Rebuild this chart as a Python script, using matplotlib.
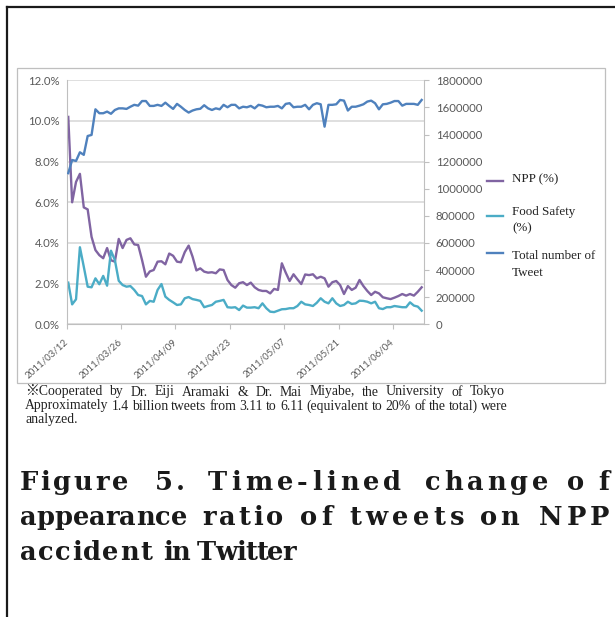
import numpy as np
import matplotlib
matplotlib.use("Agg")
import matplotlib.pyplot as plt
from matplotlib.lines import Line2D
from matplotlib.patches import Rectangle
from matplotlib.font_manager import FontProperties
from matplotlib.textpath import TextToPath
import matplotlib.transforms as mtransforms
import datetime as dt

# ---------------- data ----------------
start_date = dt.date(2011, 3, 12)
npp_pct = [10.2, 6.0, 7.0, 7.4, 5.75, 5.65, 4.3, 3.65, 3.4, 3.25,
           3.75, 3.15, 3.08, 4.2, 3.75, 4.15, 4.23, 3.93, 3.9, 3.16,
           2.34, 2.6, 2.67, 3.08, 3.1, 2.95, 3.48, 3.37, 3.08, 3.05,
           3.55, 3.87, 3.33, 2.65, 2.75, 2.59, 2.54, 2.56, 2.51, 2.70,
           2.67, 2.18, 1.93, 1.80, 2.02, 2.07, 1.93, 2.05, 1.82, 1.69,
           1.64, 1.64, 1.52, 1.74, 1.69, 3.0, 2.54, 2.13, 2.46, 2.21,
           1.98, 2.45, 2.42, 2.46, 2.26, 2.34, 2.26, 1.85, 2.07, 2.13,
           1.93, 1.49, 1.88, 1.69, 1.80, 2.18, 1.88, 1.64, 1.44, 1.60,
           1.52, 1.33, 1.28, 1.24, 1.31, 1.39, 1.49, 1.41, 1.49, 1.41,
           1.60, 1.82]
food_pct = [2.05, 0.98, 1.23, 3.79, 2.83, 1.85, 1.82, 2.26, 1.97, 2.38,
            1.9, 3.62, 3.16, 2.14, 1.93, 1.85, 1.88, 1.69, 1.44, 1.39,
            0.98, 1.15, 1.11, 1.69, 1.98, 1.36, 1.2, 1.08, 0.95, 0.98,
            1.28, 1.34, 1.24, 1.2, 1.15, 0.84, 0.9, 0.95, 1.11, 1.15,
            1.2, 0.84, 0.82, 0.84, 0.7, 0.92, 0.82, 0.82, 0.84, 0.79,
            1.03, 0.79, 0.62, 0.6, 0.67, 0.74, 0.75, 0.79, 0.79, 0.9,
            1.11, 0.98, 0.95, 0.9, 1.06, 1.28, 1.11, 1.03, 1.28, 1.03,
            0.9, 0.95, 1.11, 1.0, 1.03, 1.16, 1.15, 1.11, 1.03, 1.11,
            0.79, 0.75, 0.84, 0.84, 0.9, 0.87, 0.84, 0.84, 1.08, 0.92,
            0.87, 0.67]
total_tweets = [1115000, 1212000, 1205000, 1269000, 1250000, 1389000, 1397000, 1586000, 1557000, 1557000,
                1569000, 1553000, 1581000, 1593000, 1593000, 1589000, 1605000, 1619000, 1613000, 1647000,
                1647000, 1611000, 1611000, 1619000, 1611000, 1635000, 1611000, 1589000, 1626000, 1605000,
                1581000, 1562000, 1577000, 1586000, 1590000, 1616000, 1593000, 1581000, 1593000, 1586000,
                1619000, 1601000, 1619000, 1619000, 1593000, 1605000, 1601000, 1611000, 1593000, 1619000,
                1613000, 1601000, 1605000, 1605000, 1611000, 1593000, 1626000, 1631000, 1601000, 1605000,
                1605000, 1619000, 1586000, 1619000, 1631000, 1623000, 1458000, 1619000, 1619000, 1623000,
                1655000, 1650000, 1577000, 1605000, 1605000, 1613000, 1623000, 1643000, 1650000, 1631000,
                1586000, 1623000, 1626000, 1635000, 1647000, 1647000, 1613000, 1626000, 1626000, 1626000,
                1619000, 1655000]
series_names = ["NPP (%)", "Food Safety\n(%)", "Total number of\nTweet"]
pct_ticks = [0, 2, 4, 6, 8, 10, 12]
count_ticks = [0, 200000, 400000, 600000, 800000, 1000000, 1200000, 1400000, 1600000, 1800000]
date_tick_step = 14

footnote_lines = [
    "\u203bCooperated by Dr. Eiji Aramaki & Dr. Mai Miyabe, the University of Tokyo",
    "Approximately 1.4 billion tweets from 3.11 to 6.11 (equivalent to 20% of the total) were",
    "analyzed.",
]
caption_lines = [
    "Figure 5. Time-lined change of",
    "appearance ratio of tweets on NPP",
    "accident in Twitter",
]

# ---------------- figure ----------------
W, H, DPI = 615, 617, 100
fig = plt.figure(figsize=(W / DPI, H / DPI), dpi=DPI)
fig.patch.set_facecolor("white")

def fx(x):
    return x / W

def fy(y):
    return 1 - y / H

# document frame lines (top and left)
fig.add_artist(Line2D([fx(7), fx(615)], [fy(6.5), fy(6.5)], color="#1a1a1a", lw=1.6, transform=fig.transFigure))
fig.add_artist(Line2D([fx(7), fx(7)], [fy(6.5), fy(617)], color="#1a1a1a", lw=1.6, transform=fig.transFigure))

# chart box
fig.add_artist(Rectangle((fx(17), fy(383)), fx(605) - fx(17), fy(68) - fy(383),
                         fill=False, edgecolor="#bfbfbf", lw=0.9, transform=fig.transFigure))

# plot axes
L, R, T, B = 66.7, 424.0, 80.3, 324.3
ax = fig.add_axes([fx(L), fy(B), (R - L) / W, (B - T) / H])
ax2 = ax.twinx()

days = np.arange(len(npp_pct))
c_npp, c_food, c_total = "#8064a2", "#4bacc6", "#4f81bd"
l1, = ax.plot(days, npp_pct, color=c_npp, lw=1.7, solid_joinstyle="round")
l2, = ax.plot(days, food_pct, color=c_food, lw=1.7, solid_joinstyle="round")
l3, = ax2.plot(days, total_tweets, color=c_total, lw=1.7, solid_joinstyle="round")

ax.set_xlim(-0.4, len(days) - 0.4)
ax.set_ylim(0, 12)
ax2.set_ylim(0, 1800000)

tick_font = "Lato"
label_col = "#595959"
ax.set_yticks(pct_ticks)
ax.set_yticklabels([f"{v:.1f}%" for v in pct_ticks], fontsize=8.2, color=label_col, family=tick_font)
ax2.set_yticks(count_ticks)
ax2.set_yticklabels([str(v) for v in count_ticks], fontsize=8.2, color=label_col, family=tick_font)

xt = np.arange(0, len(days), date_tick_step)
ax.set_xticks(xt - 0.4)
xlabels = [(start_date + dt.timedelta(days=int(d))).strftime("%Y/%m/%d") for d in xt]
ax.set_xticklabels(xlabels, fontsize=7.0, color=label_col, family=tick_font,
                   rotation=42, ha="right", va="center", rotation_mode="anchor")
offset = mtransforms.ScaledTranslation(4 / 72, 0, fig.dpi_scale_trans)
for lab in ax.get_xticklabels():
    lab.set_transform(lab.get_transform() + offset)

ax.yaxis.grid(True, color="#d9d9d9", lw=1.2)
ax.set_axisbelow(True)
for s in ["top", "right"]:
    ax.spines[s].set_visible(False)
ax.spines["left"].set_color("#bfbfbf")
ax.spines["bottom"].set_color("#bfbfbf")
for s in ["top", "left", "bottom"]:
    ax2.spines[s].set_visible(False)
ax2.spines["right"].set_color("#bfbfbf")
ax.tick_params(axis="y", length=0, pad=5)
ax.tick_params(axis="x", length=3.5, color="#bfbfbf", direction="out", pad=8)
ax2.tick_params(axis="y", length=3.5, color="#bfbfbf", direction="out", pad=5)

# legend (manual layout)
leg_font = FontProperties(family=["Liberation Serif", "DejaVu Serif"], size=9.4)
leg_items = [(l1, series_names[0], 179, 181), (l2, series_names[1], 220.5, 216), (l3, series_names[2], 264.5, 253)]
for line, name, ty, ly in leg_items:
    fig.add_artist(Line2D([fx(487), fx(503)], [fy(ly), fy(ly)], color=line.get_color(), lw=1.7,
                          transform=fig.transFigure))
    fig.text(fx(512), fy(ty), name, fontproperties=leg_font, color="#222222",
             ha="left", va="center", linespacing=1.45)

# ---------- text helpers ----------
ttp = TextToPath()

def text_w_px(s, prop):
    w, h, d = ttp.get_text_width_height_descent(s, prop, ismath=False)
    return w * DPI / 72.0

def justify_line(words, x0, x1, base, prop, color):
    widths = [text_w_px(w, prop) for w in words]
    gap = (x1 - x0 - sum(widths)) / max(len(words) - 1, 1)
    x = x0
    for w, wd in zip(words, widths):
        fig.text(fx(x), fy(base), w, fontproperties=prop, color=color, ha="left", va="baseline")
        x += wd + gap

def fitted_word(word, x0, x1, base, prop, color):
    ws = [text_w_px(c, prop) for c in word]
    n = len(word)
    track = (x1 - x0 - sum(ws)) / (n - 1) if n > 1 else 0.0
    track = max(track, -1.2)
    x = x0
    for c, wd in zip(word, ws):
        fig.text(fx(x), fy(base), c, fontproperties=prop, color=color, ha="left", va="baseline")
        x += wd + track

# footnote
foot_font = FontProperties(family=["Liberation Serif", "Noto Sans CJK JP"], size=9.9)
foot_base = [395.5, 409.5, 423]
justify_line(footnote_lines[0].split(), 25, 505, foot_base[0], foot_font, "#222222")
justify_line(footnote_lines[1].split(), 25, 508, foot_base[1], foot_font, "#222222")
fig.text(fx(25), fy(foot_base[2]), footnote_lines[2], fontproperties=foot_font, color="#222222",
         ha="left", va="baseline")

# caption (justified, letter-spaced)
cap_font = FontProperties(family="DejaVu Serif", weight="bold", size=18.5)
cap_spans = [
    [(19.6, 128), (155, 185), (208, 401), (425, 548), (567, 609)],
    [(19.6, 187), (202, 283), (300, 332), (349, 464), (480, 519), (539, 609)],
    [(19.6, 152), (163, 185), (197, 296)],
]
cap_base = [490, 525, 560]
for line, spans, base in zip(caption_lines, cap_spans, cap_base):
    for word, (a, b) in zip(line.split(), spans):
        fitted_word(word, a, b, base, cap_font, "#1a1a1a")

fig.savefig("out.png", dpi=DPI, facecolor="white")
